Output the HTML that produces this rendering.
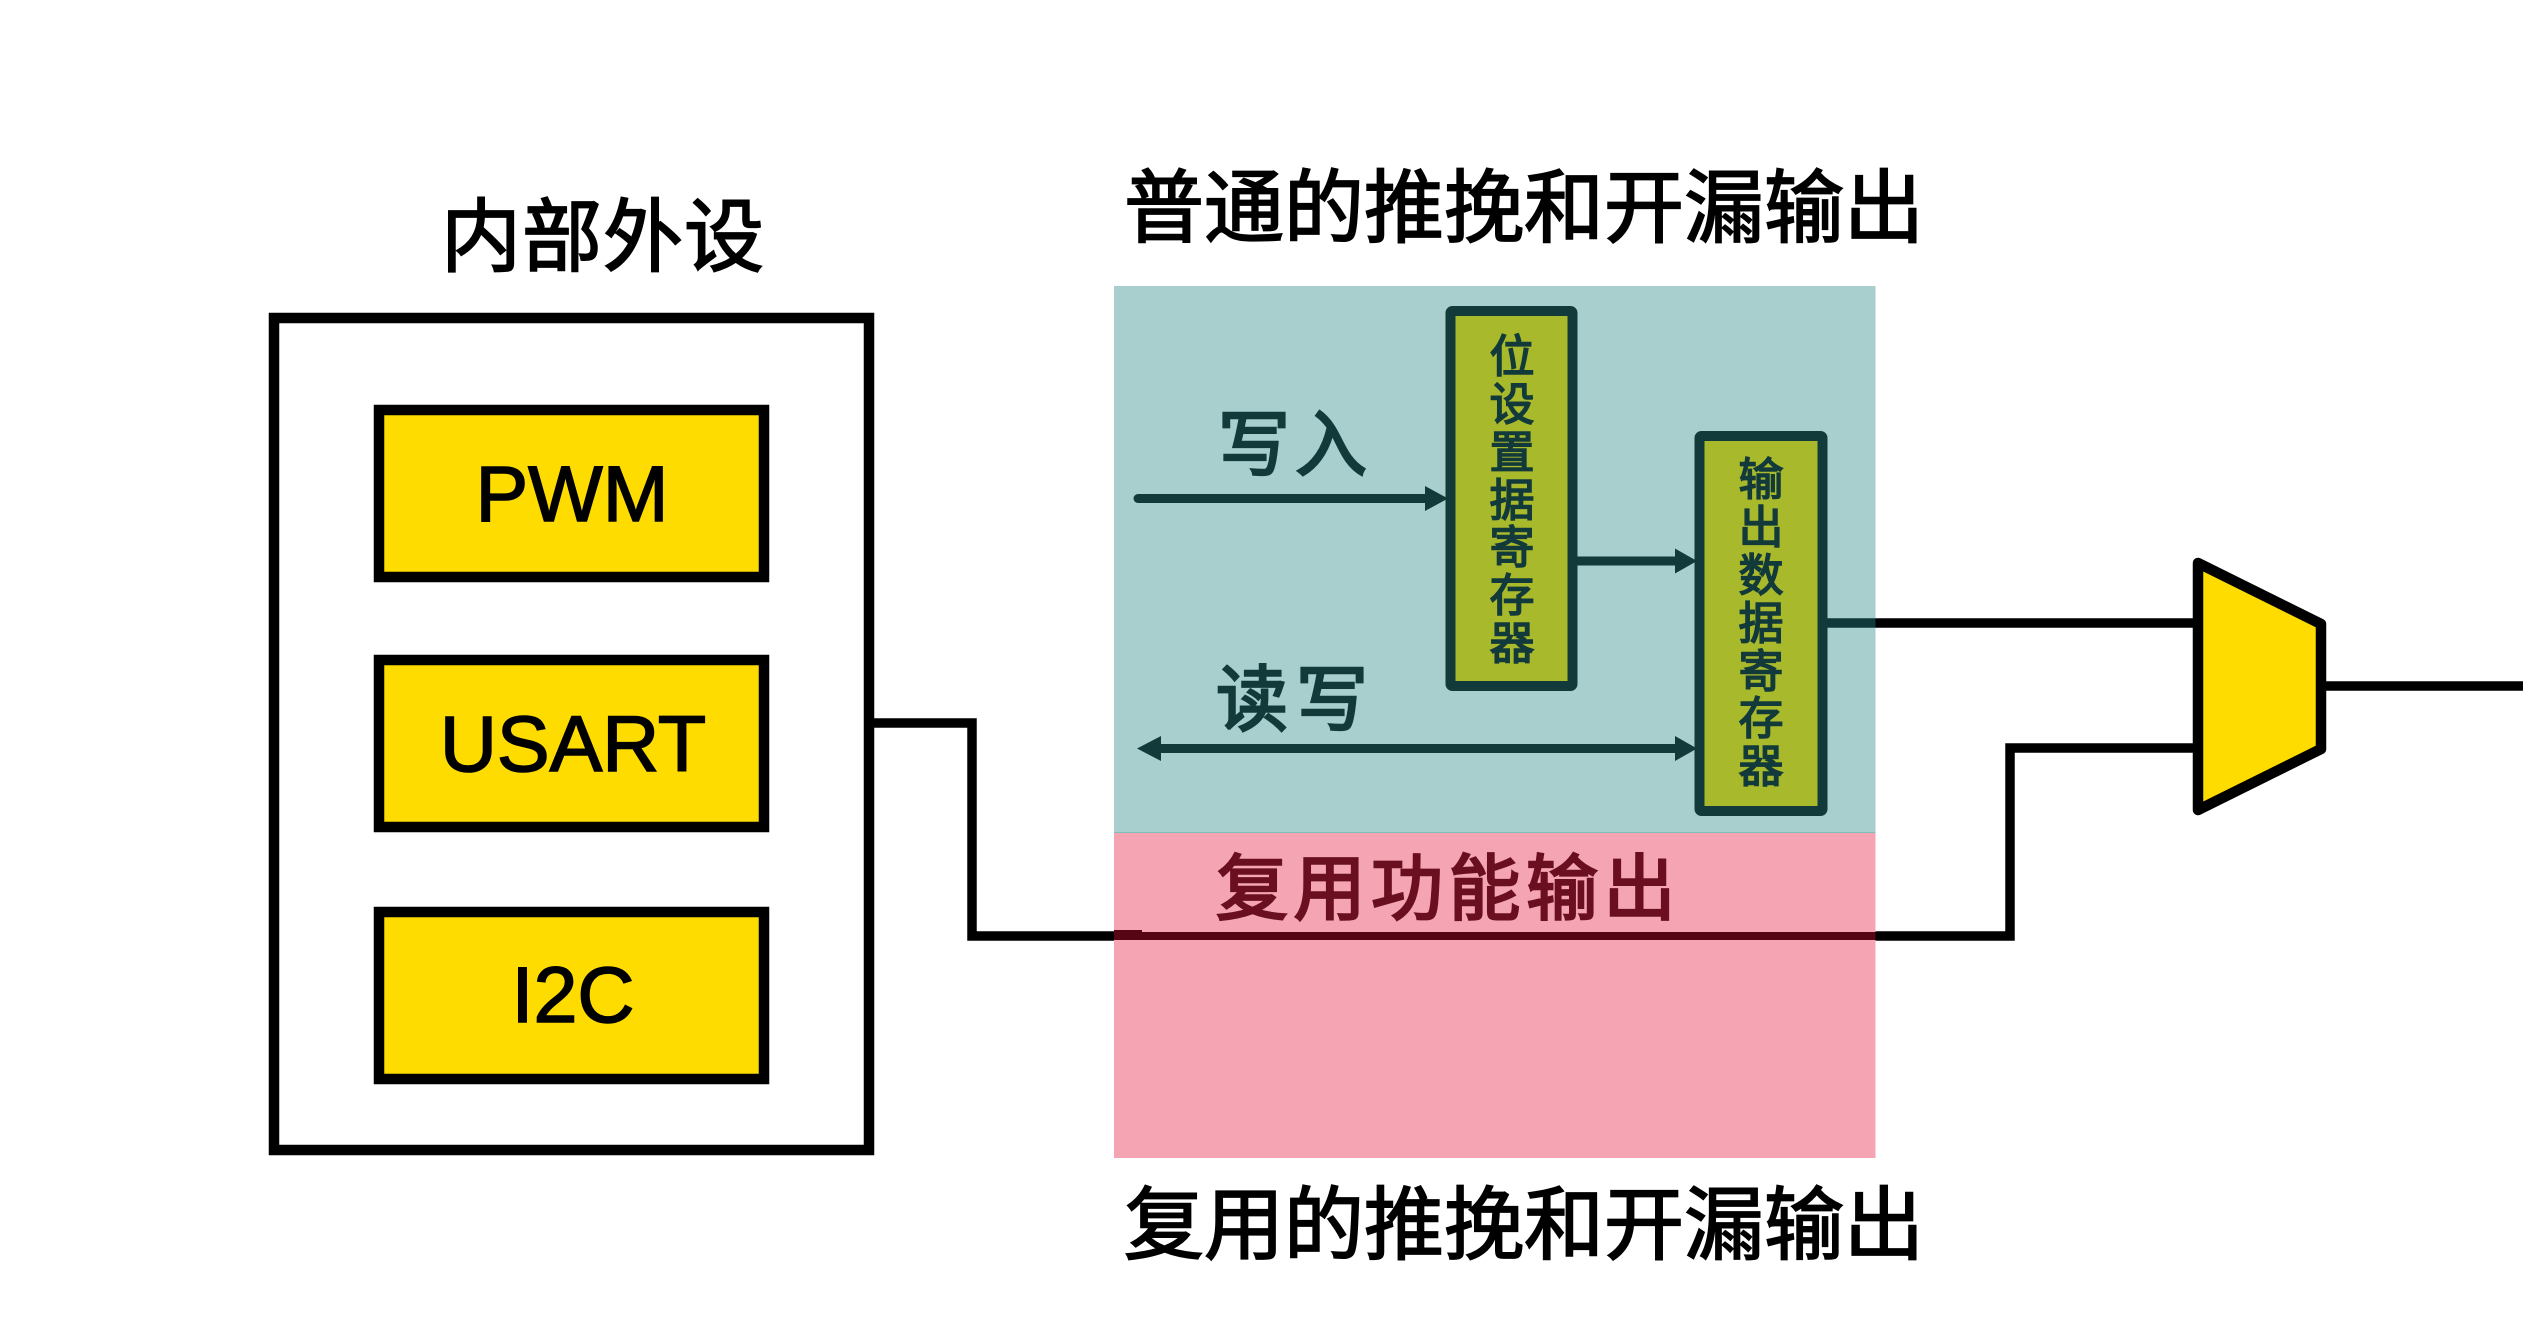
<!DOCTYPE html>
<html lang="zh">
<head>
<meta charset="utf-8">
<title>复用功能输出</title>
<style>
html,body{margin:0;padding:0;background:#fff;}
svg{display:block;}
.cjk{font-family:"Liberation Sans","Noto Sans CJK SC",sans-serif;}
.lat{font-family:"Liberation Sans",sans-serif;text-anchor:middle;font-size:79px;fill:#000;stroke:#000;stroke-width:1.6px;}
.v{font-family:"Liberation Sans","Noto Sans CJK SC",sans-serif;font-size:45px;fill:#123a3a;text-anchor:middle;stroke:#123a3a;stroke-width:1.6px;}
</style>
</head>
<body>
<svg width="2523" height="1341" viewBox="0 0 2523 1341" xmlns="http://www.w3.org/2000/svg">
<rect width="2523" height="1341" fill="#fff"/>

<!-- headings -->
<text class="cjk" x="441" y="265" font-size="80" letter-spacing="1" stroke="#000" stroke-width="1.800">内部外设</text>
<text class="cjk" x="1124" y="236" font-size="80" letter-spacing="0" stroke="#000" stroke-width="1.800">普通的推挽和开漏输出</text>
<text class="cjk" x="1124" y="1253" font-size="80" letter-spacing="0" stroke="#000" stroke-width="1.800">复用的推挽和开漏输出</text>

<!-- peripherals -->
<rect x="274" y="318" width="595" height="832" fill="#fff" stroke="#000" stroke-width="10.500"/>
<rect x="379" y="410" width="385" height="167" fill="#ffdc00" stroke="#000" stroke-width="10.500"/>
<rect x="379" y="660" width="385" height="167" fill="#ffdc00" stroke="#000" stroke-width="10.500"/>
<rect x="379" y="912" width="385" height="167" fill="#ffdc00" stroke="#000" stroke-width="10.500"/>
<text class="lat" x="572" y="521">PWM</text>
<text class="lat" x="573" y="771">USART</text>
<text class="lat" x="573" y="1022">I2C</text>

<!-- wires -->
<polyline points="874,723 972,723 972,936 2010,936 2010,748 2198,748" fill="none" stroke="#000" stroke-width="9.500" stroke-linejoin="miter"/>
<line x1="1827" y1="623" x2="2198" y2="623" stroke="#000" stroke-width="9.500"/>
<line x1="2322" y1="686" x2="2523" y2="686" stroke="#000" stroke-width="9.500"/>

<!-- colored zones -->
<rect x="1114" y="286" width="761.500" height="546.500" fill="#a8cfcd"/>
<rect x="1114" y="832.500" width="761.500" height="325.500" fill="#f4a4b3"/>
<line x1="1114" y1="832.500" x2="1875.500" y2="832.500" stroke="#7fbdb8" stroke-width="1"/>

<!-- overlaid wires -->
<line x1="1114" y1="936" x2="1875.500" y2="936" stroke="#560514" stroke-width="8"/>
<rect x="1114" y="930" width="28" height="10" fill="#560514"/>
<line x1="1827" y1="623" x2="1875.500" y2="623" stroke="#10383a" stroke-width="9.500"/>

<!-- registers -->
<rect x="1450.500" y="311" width="122" height="375" rx="2" fill="#a9b92c" stroke="#123a3a" stroke-width="10"/>
<rect x="1699.500" y="436" width="123" height="375" rx="2" fill="#a9b92c" stroke="#123a3a" stroke-width="10"/>

<!-- arrows -->
<g fill="#123a3a" stroke="none">
<line x1="1138" y1="498.500" x2="1430" y2="498.500" stroke="#123a3a" stroke-width="9" stroke-linecap="round"/>
<polygon points="1425,486 1448,498.500 1425,511"/>
<line x1="1577" y1="561" x2="1680" y2="561" stroke="#123a3a" stroke-width="9"/>
<polygon points="1675,548.500 1697,561 1675,573.500"/>
<line x1="1155" y1="748.500" x2="1680" y2="748.500" stroke="#123a3a" stroke-width="9"/>
<polygon points="1675,736 1697,748.500 1675,761"/>
<polygon points="1161,736 1137,748.500 1161,761"/>
</g>

<!-- zone labels -->
<text class="cjk" x="1218" y="470" font-size="72" letter-spacing="5" fill="#123a3a" stroke="#123a3a" stroke-width="2.400">写入</text>
<text class="cjk" x="1216" y="725" font-size="72" letter-spacing="8" fill="#123a3a" stroke="#123a3a" stroke-width="2.400">读写</text>
<text class="cjk" x="1216" y="914" font-size="72" letter-spacing="5.500" fill="#6a0f20" stroke="#6a0f20" stroke-width="2.400">复用功能输出</text>

<!-- vertical labels -->
<text class="v" x="1512" y="372">位</text>
<text class="v" x="1512" y="420">设</text>
<text class="v" x="1512" y="468">置</text>
<text class="v" x="1512" y="516">据</text>
<text class="v" x="1512" y="563">寄</text>
<text class="v" x="1512" y="611">存</text>
<text class="v" x="1512" y="659">器</text>

<text class="v" x="1761" y="495">输</text>
<text class="v" x="1761" y="543">出</text>
<text class="v" x="1761" y="591">数</text>
<text class="v" x="1761" y="639">据</text>
<text class="v" x="1761" y="687">寄</text>
<text class="v" x="1761" y="734">存</text>
<text class="v" x="1761" y="782">器</text>

<!-- mux -->
<polygon points="2198,563 2321,624 2321,749 2198,810" fill="#ffdc00" stroke="#000" stroke-width="10.500" stroke-linejoin="round"/>
</svg>
</body>
</html>
